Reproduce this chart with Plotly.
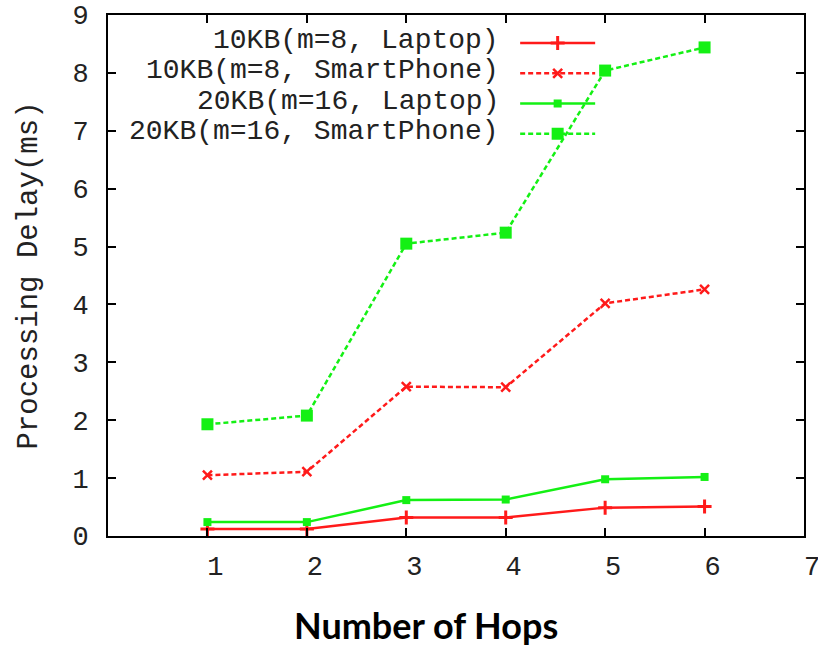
import plotly.graph_objects as go

hops = [1, 2, 3, 4, 5, 6]
laptop_10kb = [0.12, 0.12, 0.32, 0.32, 0.49, 0.51]
phone_10kb = [1.05, 1.11, 2.58, 2.57, 4.02, 4.26]
laptop_20kb = [0.24, 0.24, 0.62, 0.63, 0.98, 1.02]
phone_20kb = [1.93, 2.08, 5.05, 5.24, 8.04, 8.44]

labels = ["10KB(m=8, Laptop)", "10KB(m=8, SmartPhone)",
          "20KB(m=16, Laptop)", "20KB(m=16, SmartPhone)"]
x_ticks = [1, 2, 3, 4, 5, 6, 7]
y_ticks = [0, 1, 2, 3, 4, 5, 6, 7, 8, 9]

RED = "#ff1a1a"
GREEN = "#14f014"
MONO = "Liberation Mono, Courier New, monospace"

fig = go.Figure()
fig.add_trace(go.Scatter(
    x=hops, y=laptop_10kb, mode="lines+markers", name=" ",
    line=dict(color=RED, width=2.5),
    marker=dict(symbol="cross-thin-open", size=10, line=dict(color=RED, width=3)),
))
fig.add_trace(go.Scatter(
    x=hops, y=phone_10kb, mode="lines+markers", name=" ",
    line=dict(color=RED, width=2.5, dash="5px,3px"),
    marker=dict(symbol="x-thin-open", size=9, line=dict(color=RED, width=2.5)),
))
fig.add_trace(go.Scatter(
    x=hops, y=laptop_20kb, mode="lines+markers", name=" ",
    line=dict(color=GREEN, width=2.5),
    marker=dict(symbol="square", size=8, color=GREEN),
))
fig.add_trace(go.Scatter(
    x=hops, y=phone_20kb, mode="lines+markers", name=" ",
    line=dict(color=GREEN, width=2.5, dash="5px,3px"),
    marker=dict(symbol="square", size=12, color=GREEN),
))

# legend text (right-aligned, left of the key samples)
row_y = [0.952, 0.893, 0.834, 0.776]
for lab, yy in zip(labels, row_y):
    fig.add_annotation(
        text=lab, xref="paper", yref="paper", x=0.565, y=yy,
        xanchor="right", yanchor="middle", showarrow=False,
        font=dict(family=MONO, size=28, color="#222222"),
    )

fig.add_annotation(
    text="<b>Number of Hops</b>", xref="paper", yref="paper",
    x=0.457, y=-0.17, xanchor="center", yanchor="middle", showarrow=False,
    font=dict(family="Lato, Open Sans, sans-serif", size=36, color="black"),
)

fig.update_layout(
    width=818, height=648,
    margin=dict(l=108, r=14, t=15, b=112),
    paper_bgcolor="white", plot_bgcolor="white",
    showlegend=True,
    legend=dict(
        x=0.585, y=0.985, xanchor="left", yanchor="top",
        bgcolor="rgba(0,0,0,0)", font=dict(family=MONO, size=21),
        itemwidth=75, tracegroupgap=0,
    ),
    xaxis=dict(
        range=[0, 7], tickvals=x_ticks, ticktext=[str(v) for v in x_ticks],
        ticks="inside", ticklen=8, tickwidth=2, tickcolor="black",
        showline=True, linecolor="black", linewidth=2, mirror="ticks",
        showgrid=False, zeroline=False, automargin=False,
        tickfont=dict(family=MONO, size=27, color="#222222"),
        ticklabelshift=8, ticklabelstandoff=5, ticklabeloverflow="allow",
    ),
    yaxis=dict(
        range=[0, 9], tickvals=y_ticks,
        ticks="inside", ticklen=8, tickwidth=2, tickcolor="black",
        showline=True, linecolor="black", linewidth=2, mirror="ticks",
        showgrid=False, zeroline=False, automargin=False,
        tickfont=dict(family=MONO, size=27, color="#222222"),
        ticklabelstandoff=12,
        title=dict(text="Processing Delay(ms)", standoff=26,
                   font=dict(family=MONO, size=29, color="#222222")),
    ),
)

fig.write_html(
    "out.html",
    config={"displayModeBar": False},
    post_script="document.body.style.margin='0';document.body.style.overflow='hidden';",
)
